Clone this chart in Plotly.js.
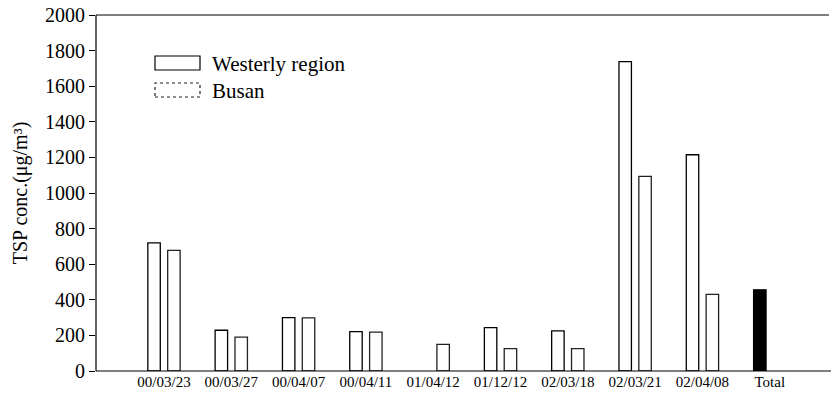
<!DOCTYPE html>
<html><head><meta charset="utf-8">
<script src="https://cdn.plot.ly/plotly-3.0.1.min.js"></script>
<style>html,body{margin:0;padding:0;background:#fff;overflow:hidden}#chart{width:831px;height:395px}</style>
</head><body><div id="chart"></div>
<script>
const categories = ["00/03/23","00/03/27","00/04/07","00/04/11","01/04/12","01/12/12","02/03/18","02/03/21","02/04/08","Total"];
const westerly = [720, 229, 300, 221, null, 244, 225, 1738, 1215, 456];
const busan = [678, 190, 298, 218, 150, 126, 126, 1093, 430, null];
const westerlyColors = ["#fff","#fff","#fff","#fff","#fff","#fff","#fff","#fff","#fff","#000"];
const seriesNames = ["Westerly region", "Busan"];

const xs = categories.map((c, i) => i);
const FAM = "Liberation Serif";

const traces = [
  {type: "bar", x: xs, y: westerly, name: seriesNames[0], offset: -0.24, width: 0.185,
   marker: {color: westerlyColors, line: {color: "#000", width: 1.3}}, showlegend: false},
  {type: "bar", x: xs, y: busan, name: seriesNames[1], offset: 0.055, width: 0.185,
   marker: {color: "#fff", line: {color: "#222", width: 1.3}}, showlegend: false}
];

const L = 96, R = 831, T = 15, B = 371;
const px = v => (v - L) / (R - L);
const py = v => (B - v) / (B - T);

const layout = {
  width: 831, height: 395,
  margin: {l: L, r: 0, t: T, b: 395 - B},
  paper_bgcolor: "#fff", plot_bgcolor: "#fff",
  font: {family: FAM, color: "#000"},
  xaxis: {range: [-1.01, 9.91], tickvals: xs, ticktext: categories, showgrid: false, zeroline: false,
          showline: false, ticks: "",
          tickfont: {family: FAM, size: 15, color: "#000"}},
  yaxis: {range: [0, 2000], dtick: 200, showgrid: false, zeroline: false, showline: false,
          ticks: "outside", ticklen: 6, tickcolor: "#000",
          tickfont: {family: FAM, size: 20, color: "#000"},
          title: {text: "TSP conc.(μg/m³)", font: {family: FAM, size: 20, color: "#000"}, standoff: 12}},
  shapes: [
    {type: "line", xref: "paper", yref: "paper", x0: 0, x1: px(829), y0: 1, y1: 1, line: {color: "#000", width: 1.2}},
    {type: "line", xref: "paper", yref: "paper", x0: 0, x1: 1, y0: 0, y1: 0, line: {color: "#000", width: 1.2}},
    {type: "line", xref: "paper", yref: "paper", x0: 0, x1: 0, y0: 0, y1: 1, line: {color: "#000", width: 1.2}},
    {type: "rect", xref: "paper", yref: "paper", x0: px(155), x1: px(200), y0: py(70), y1: py(56), line: {color: "#000", width: 1.2}},
    {type: "rect", xref: "paper", yref: "paper", x0: px(155), x1: px(200), y0: py(97), y1: py(83), line: {color: "#222", width: 1.2, dash: "dot"}}
  ],
  annotations: [
    {xref: "paper", yref: "paper", x: px(210), y: py(64), xanchor: "left", yanchor: "middle", showarrow: false, text: seriesNames[0], font: {family: FAM, size: 21, color: "#000"}},
    {xref: "paper", yref: "paper", x: px(210), y: py(91), xanchor: "left", yanchor: "middle", showarrow: false, text: seriesNames[1], font: {family: FAM, size: 21, color: "#000"}}
  ]
};
Plotly.newPlot("chart", traces, layout, {displayModeBar: false, staticPlot: true});
</script></body></html>
